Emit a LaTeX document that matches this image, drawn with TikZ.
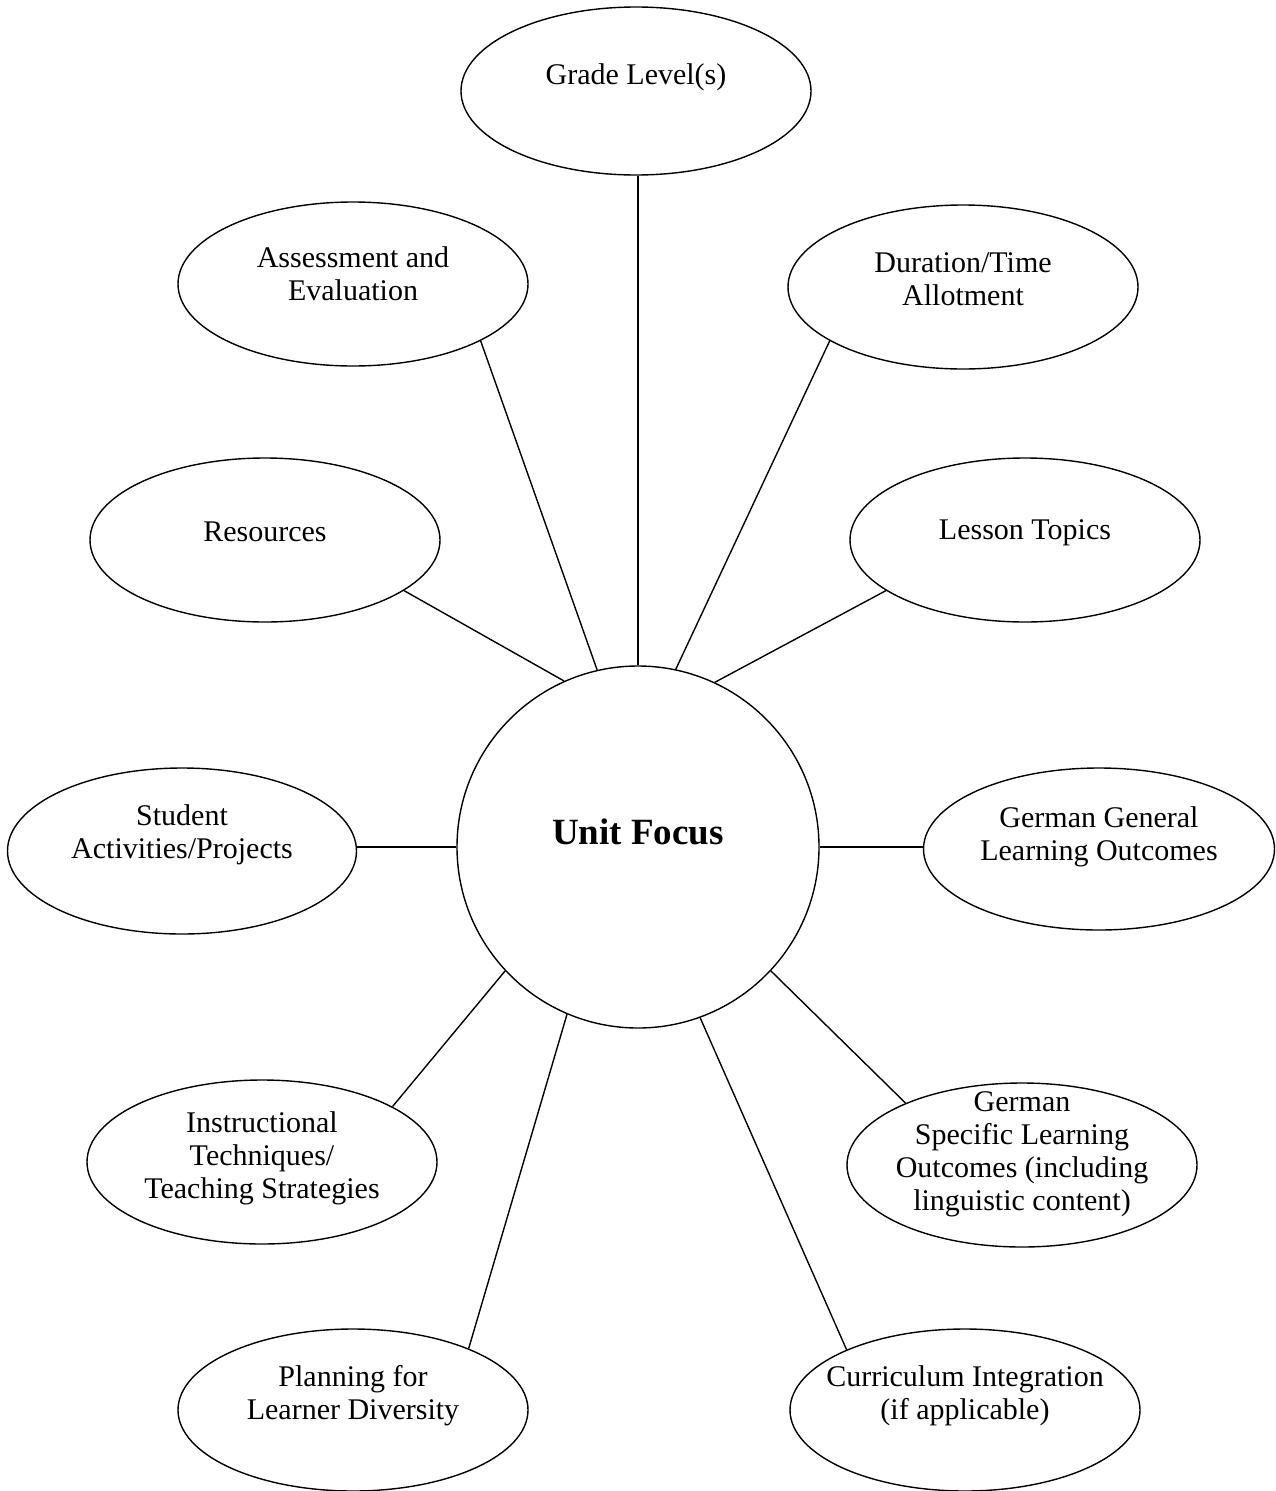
\documentclass[tikz,border=0pt]{standalone}
\usepackage{fontspec}
\setmainfont{Liberation Serif}
\usetikzlibrary{shapes.geometric}
\begin{document}
\begin{tikzpicture}[x=1pt,y=-1pt,
  bub/.style={draw,ellipse,line width=1.4pt,minimum width=350pt,minimum height=164pt,inner sep=0pt},
  txt/.style={align=center,font=\fontsize{30}{33}\selectfont,inner sep=0pt},
  con/.style={line width=1.4pt}]
\useasboundingbox (0,0) rectangle (1275,1491);
\node[draw,circle,line width=1.4pt,minimum size=362pt,inner sep=0pt] (c) at (638,847) {};
\node[font=\fontsize{37}{40}\selectfont\bfseries] at ([yshift=15pt]c.center) {Unit Focus};

\node[bub,minimum height=168pt] (g) at (636,91) {};
\node[txt] at ([yshift=14pt]g.center) {Grade Level(s)};
\node[bub] (a) at (353,284) {};
\node[txt] at ([yshift=10pt]a.center) {Assessment and\\Evaluation};
\node[bub] (d) at (963,287) {};
\node[txt] at ([yshift=8pt]d.center) {Duration/Time\\Allotment};
\node[bub] (r) at (265,540) {};
\node[txt] at ([yshift=8pt]r.center) {Resources};
\node[bub] (l) at (1025,540) {};
\node[txt] at ([yshift=7pt]l.center) {Lesson Topics};
\node[bub,minimum width=349pt,minimum height=166pt] (s) at (182,851) {};
\node[txt] at ([yshift=16pt]s.center) {Student\\Activities/Projects};
\node[bub,minimum width=351pt,minimum height=162pt] (gg) at (1099,849) {};
\node[txt] at ([yshift=12pt]gg.center) {German General\\Learning Outcomes};
\node[bub] (i) at (262,1162) {};
\node[txt] at ([yshift=4pt]i.center) {Instructional\\Techniques/\\Teaching Strategies};
\node[bub] (gs) at (1022,1165) {};
\node[txt] at ([yshift=11pt]gs.center) {German\\Specific Learning\\Outcomes (including\\linguistic content)};
\node[bub,minimum height=162pt] (p) at (353,1410) {};
\node[txt] at ([yshift=14pt]p.center) {Planning for\\Learner Diversity};
\node[bub,minimum height=162pt] (ci) at (965,1410) {};
\node[txt] at ([yshift=14pt]ci.center) {Curriculum Integration\\(if applicable)};

\draw[con] (c.north) -- (c.north |- g.south);
\draw[con] (c.103.3) -- (a.336.9);
\draw[con] (c.78.6) -- (d.202.3);
\draw[con] (c.114.8) -- (r.340.1);
\draw[con] (c.65.4) -- (l.200.3);
\draw[con] (c.west) -- (c.west -| s.east);
\draw[con] (c.east) -- (c.east -| gg.west);
\draw[con] (c.223) -- (i.23.5);
\draw[con] (c.317.2) -- (gs.152.5);
\draw[con] (c.247.5) -- (p.28.6);
\draw[con] (c.290.2) -- (ci.153.1);
\end{tikzpicture}
\end{document}
